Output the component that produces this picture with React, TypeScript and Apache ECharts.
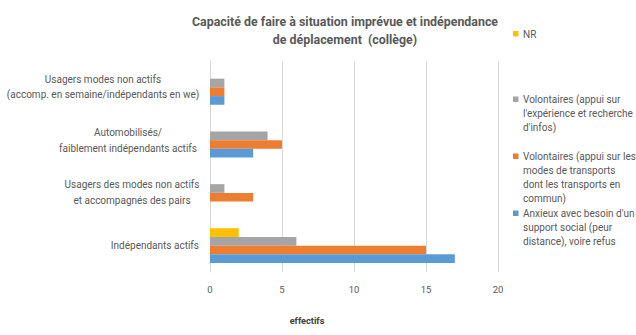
import React, { useEffect, useRef } from "react";
import * as echarts from "echarts";

const categories = [
  "Indépendants actifs",
  "Usagers des modes non actifs\net accompagnés des pairs",
  "Automobilisés/\nfaiblement indépendants actifs",
  "Usagers modes non actifs\n(accomp. en semaine/indépendants en we)",
];

const seriesNames = [
  "NR",
  "Volontaires (appui sur\nl'expérience et recherche\nd'infos)",
  "Volontaires (appui sur les\nmodes de transports\ndont les transports en\ncommun)",
  "Anxieux avec besoin d'un\nsupport social (peur\ndistance), voire refus",
];

const nr = [2, 0, 0, 0];
const volontairesExperience = [6, 1, 4, 1];
const volontairesTransports = [15, 3, 5, 1];
const anxieux = [17, 0, 3, 1];

const colors = ["#FFC000", "#A5A5A5", "#ED7D31", "#5B9BD5"];
const xTicks = [0, 5, 10, 15, 20];

const FONT = "Roboto";
const TXT = "#595959";

export default function App() {
  const ref = useRef<HTMLDivElement>(null);
  useEffect(() => {
    if (!ref.current) return;
    const chart = echarts.init(ref.current, undefined, { renderer: "svg" });
    const values = [nr, volontairesExperience, volontairesTransports, anxieux];
    const legendCenters = [34, 99.5, 156.5, 213.5];
    const LH = 14;
    const richKeys = ["s", "b", "a", "t"];
    const labelStyle = { fontFamily: FONT, fontSize: 10, color: TXT, lineHeight: 16 };

    const legendGraphics: any[] = [];
    seriesNames.forEach((name, i) => {
      legendGraphics.push({
        type: "rect",
        shape: { x: 513, y: legendCenters[i] - 3, width: 5.5, height: 5.5 },
        style: { fill: colors[i] },
        silent: true,
      });
      legendGraphics.push({
        type: "text",
        x: 523,
        y: legendCenters[i] - LH / 2,
        style: {
          text: name,
          fontFamily: FONT,
          fontSize: 10,
          lineHeight: LH,
          fill: TXT,
          align: "left",
          verticalAlign: "top",
        },
        silent: true,
      });
    });

    chart.setOption({
      animation: false,
      backgroundColor: "#ffffff",
      color: colors,
      title: {
        text: "Capacité de faire à situation imprévue et indépendance\nde déplacement  (collège)",
        left: 340,
        top: 7,
        textAlign: "center",
        textStyle: {
          fontFamily: FONT,
          fontSize: 12.4,
          fontWeight: "bold",
          color: TXT,
          lineHeight: 18,
        },
      },
      grid: { left: 210, right: 138, top: 61, bottom: 63, containLabel: false },
      xAxis: {
        type: "value",
        min: xTicks[0],
        max: xTicks[xTicks.length - 1],
        interval: 5,
        axisLine: { show: false },
        axisTick: { show: false },
        axisLabel: { fontFamily: FONT, fontSize: 9.5, color: TXT, margin: 12 },
        splitLine: { lineStyle: { color: "#d9d9d9", width: 1 } },
      },
      yAxis: {
        type: "category",
        data: categories,
        axisLine: { show: true, lineStyle: { color: "#d9d9d9" } },
        axisTick: { show: false },
        axisLabel: {
          ...labelStyle,
          margin: 11,
          align: "right",
          formatter: (v: string, idx: number) =>
            v
              .split("\n")
              .map((l) => `{${richKeys[idx]}|${l}}`)
              .join("\n"),
          rich: {
            s: { ...labelStyle },
            b: { ...labelStyle, width: 134, align: "center" },
            a: { ...labelStyle, width: 142, align: "center" },
            t: { ...labelStyle, lineHeight: 15, width: 192, align: "center" },
          },
        },
      },
      graphic: [
        ...legendGraphics,
        {
          type: "text",
          x: 307,
          y: 320,
          style: {
            text: "effectifs",
            fontFamily: FONT,
            fontSize: 9.2,
            fontWeight: "bold",
            fill: "#404040",
            align: "center",
            verticalAlign: "middle",
          },
        },
      ],
      series: seriesNames.map((name, i) => ({
        name,
        type: "bar",
        data: values[i],
        barGap: "0%",
        barCategoryGap: "34%",
        itemStyle: { color: colors[i] },
      })),
    });
    return () => chart.dispose();
  }, []);
  return (
    <div
      ref={ref}
      style={{ position: "fixed", left: 0, top: 0, width: 636, height: 335 }}
    />
  );
}
